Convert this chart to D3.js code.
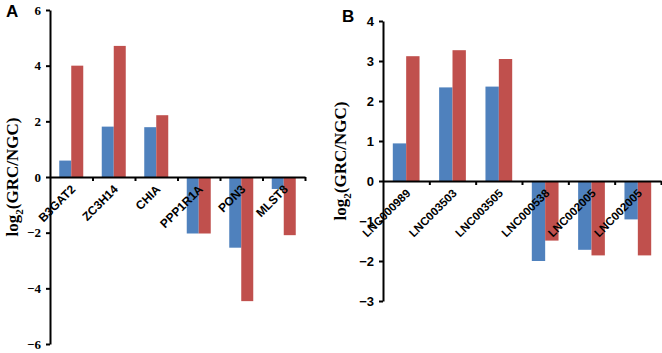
<!DOCTYPE html>
<html>
<head>
<meta charset="utf-8">
<script src="https://cdn.jsdelivr.net/npm/d3@7"></script>
<style>
  body { margin: 0; background: #fff; }
  svg { display: block; }
  .axis path, .axis line { stroke: #000; stroke-width: 2; }
</style>
</head>
<body>
<svg id="chart"></svg>
<script>
// panel A: genes
const genesA = ["B3GAT2", "ZC3H14", "CHIA", "PPP1R1A", "PON3", "MLST8"];
const blueA = [0.59, 1.81, 1.79, -2.03, -2.54, -0.43];
const redA = [4.0, 4.71, 2.22, -2.03, -4.46, -2.09];
const ticksA = [-6, -4, -2, 0, 2, 4, 6];

// panel B: lncRNAs
const lncB = ["LNC000989", "LNC003503", "LNC003505", "LNC000538", "LNC002005", "LNC002005"];
const blueB = [0.94, 2.34, 2.36, -2.0, -1.72, -0.96];
const redB = [3.12, 3.27, 3.05, -1.49, -1.86, -1.86];
const ticksB = [-3, -2, -1, 0, 1, 2, 3, 4];

const blue = "#4F81BD", red = "#C0504D";

let svg = d3.select("#chart")
  .attr("width", 662)
  .attr("height", 353);

const drawPanel = (cfg) => {
  let g = svg.append("g");
  let n = cfg.cats.length;

  let x = d3.scaleBand()
    .domain(d3.range(n))
    .range(cfg.xRange)
    .paddingInner(0)
    .paddingOuter(0);
  let xEdge = d3.scaleLinear()
    .domain([0, n])
    .range(cfg.xRange);
  let y = d3.scaleLinear()
    .domain(cfg.yDomain)
    .range(cfg.yRange);
  let inner = d3.scaleBand()
    .domain(["blue", "red"])
    .range([cfg.pad, x.bandwidth() - cfg.pad]);

  let rows = cfg.cats.map((c, i) => [
    { i, key: "blue", v: cfg.blue[i] },
    { i, key: "red", v: cfg.red[i] }
  ]).flat();

  g.selectAll("rect")
    .data(rows)
    .enter().append("rect")
      .attr("x", d => x(d.i) + inner(d.key))
      .attr("y", d => y(Math.max(0, d.v)))
      .attr("width", inner.bandwidth())
      .attr("height", d => Math.abs(y(d.v) - y(0)))
      .attr("fill", d => d.key === "blue" ? blue : red);

  // y axis
  let yAxis = g.append("g")
    .attr("class", "axis")
    .attr("transform", `translate(${cfg.xRange[0]},0)`)
    .call(d3.axisLeft(y).tickValues(cfg.ticks).tickSize(4).tickSizeOuter(0).tickFormat(d3.format("d")));
  yAxis.attr("font-family", null).attr("font-size", null);
  yAxis.selectAll("text")
    .attr("x", -9)
    .style("font-family", cfg.tickFont)
    .style("font-weight", "bold")
    .style("font-size", "13px")
    .attr("fill", "#000");

  // x axis at zero, ticks at category edges
  g.append("g")
    .attr("class", "axis")
    .attr("transform", `translate(0,${y(0)})`)
    .call(d3.axisBottom(xEdge).tickValues(d3.range(1, n + 1)).tickSize(4).tickSizeOuter(0).tickFormat(""));

  g.selectAll("text.cat")
    .data(cfg.cats)
    .enter().append("text")
      .attr("class", "cat")
      .attr("transform", (d, i) => `translate(${x(i) + x.bandwidth() / 2 + 5},${y(0) + 13}) rotate(-45)`)
      .attr("text-anchor", "end")
      .style("font-family", "Liberation Sans, Arial, sans-serif")
      .style("font-weight", "bold")
      .style("font-size", cfg.catSize)
      .text(d => d);

  // y title
  let mid = (cfg.yRange[0] + cfg.yRange[1]) / 2;
  let title = g.append("text")
    .attr("transform", `translate(${cfg.titleX},${mid}) rotate(-90)`)
    .attr("text-anchor", "middle")
    .style("font-family", "Liberation Serif, Times New Roman, serif")
    .style("font-weight", "bold")
    .style("font-size", "17px");
  title.append("tspan").text("log");
  title.append("tspan").attr("dy", 5).style("font-size", "11px").text("2");
  title.append("tspan").attr("dy", -5).text("(GRC/NGC)");

  // panel letter
  g.append("text")
    .attr("x", cfg.letterX)
    .attr("y", cfg.letterY)
    .style("font-family", "Liberation Sans, Arial, sans-serif")
    .style("font-weight", "bold")
    .style("font-size", "17px")
    .text(cfg.letter);
};

drawPanel({
  cats: genesA, blue: blueA, red: redA, ticks: ticksA,
  xRange: [50, 305], yDomain: [-6, 6], yRange: [344, 10],
  pad: 9.25, tickFont: "Liberation Serif, Times New Roman, serif",
  catSize: "12px", titleX: 18, letter: "A", letterX: 6, letterY: 17
});

drawPanel({
  cats: lncB, blue: blueB, red: redB, ticks: ticksB,
  xRange: [383, 661], yDomain: [-3, 4], yRange: [301, 21],
  pad: 9.8, tickFont: "Liberation Sans, Arial, sans-serif",
  catSize: "11.5px", titleX: 346, letter: "B", letterX: 342, letterY: 22
});
</script>
</body>
</html>
